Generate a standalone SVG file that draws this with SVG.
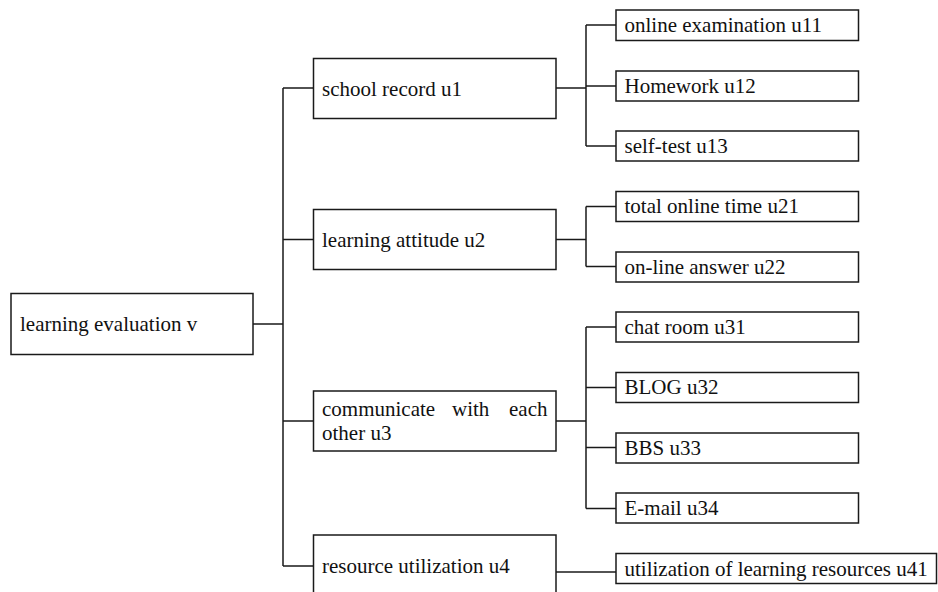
<svg xmlns="http://www.w3.org/2000/svg" width="938" height="592" viewBox="0 0 938 592">
<style>
.box{fill:#fff;stroke:#1a1a1a;stroke-width:1.5}
.lbl{font-family:'Liberation Serif','DejaVu Serif',serif;font-size:21px;fill:#111}
.con{fill:none;stroke:#1a1a1a;stroke-width:1.5}
</style>
<rect width="938" height="592" fill="#fff"/>
<g id="connectors">
<path class="con" d="M253 324H283M283 88V566M283 88H313M283 239.5H313M283 421H313M283 566H313"/>
<path class="con" d="M556 88H586M586 25V146M586 25H616M586 86H616M586 146H616"/>
<path class="con" d="M556 239.5H586M586 206.5V266.5M586 206.5H616M586 266.5H616"/>
<path class="con" d="M556 421H586M586 327V508.5M586 327H616M586 387.5H616M586 447.5H616M586 508.5H616"/>
<path class="con" d="M556 572H616"/>
</g>
<g id="root"><rect class="box" x="11" y="293.5" width="242" height="61"/><text class="lbl" x="20" y="330.5">learning evaluation v</text></g>
<g id="u1"><rect class="box" x="313.5" y="58.5" width="242.5" height="60"/><text class="lbl" x="322" y="95.5">school record u1</text></g>
<g id="u2"><rect class="box" x="313.5" y="209.5" width="242.5" height="60"/><text class="lbl" x="322" y="246.5">learning attitude u2</text></g>
<g id="u3"><rect class="box" x="313.5" y="391" width="242.5" height="60"/><text class="lbl" x="322" y="415.5">communicate</text><text class="lbl" x="452" y="415.5">with</text><text class="lbl" x="547.5" y="415.5" text-anchor="end">each</text><text class="lbl" x="322" y="439.5">other u3</text></g>
<g id="u4"><rect class="box" x="313.5" y="535" width="242.5" height="70"/><text class="lbl" x="322" y="573">resource utilization u4</text></g>
<g id="u11"><rect class="box" x="616" y="10" width="242.5" height="30.5"/><text class="lbl" x="624.5" y="32">online examination u11</text></g>
<g id="u12"><rect class="box" x="616" y="71" width="242.5" height="30"/><text class="lbl" x="624.5" y="92.5">Homework u12</text></g>
<g id="u13"><rect class="box" x="616" y="131" width="242.5" height="30"/><text class="lbl" x="624.5" y="152.5">self-test u13</text></g>
<g id="u21"><rect class="box" x="616" y="191.5" width="242.5" height="30"/><text class="lbl" x="624.5" y="213">total online time u21</text></g>
<g id="u22"><rect class="box" x="616" y="252" width="242.5" height="30"/><text class="lbl" x="624.5" y="273.5">on-line answer u22</text></g>
<g id="u31"><rect class="box" x="616" y="312" width="242.5" height="30"/><text class="lbl" x="624.5" y="333.5">chat room u31</text></g>
<g id="u32"><rect class="box" x="616" y="372.5" width="242.5" height="30"/><text class="lbl" x="624.5" y="394">BLOG u32</text></g>
<g id="u33"><rect class="box" x="616" y="433" width="242.5" height="30"/><text class="lbl" x="624.5" y="454.5">BBS u33</text></g>
<g id="u34"><rect class="box" x="616" y="493" width="242.5" height="30"/><text class="lbl" x="624.5" y="514.5">E-mail u34</text></g>
<g id="u41"><rect class="box" x="616" y="553.5" width="320.5" height="30"/><text class="lbl" x="624.5" y="576">utilization of learning resources u41</text></g>
</svg>
